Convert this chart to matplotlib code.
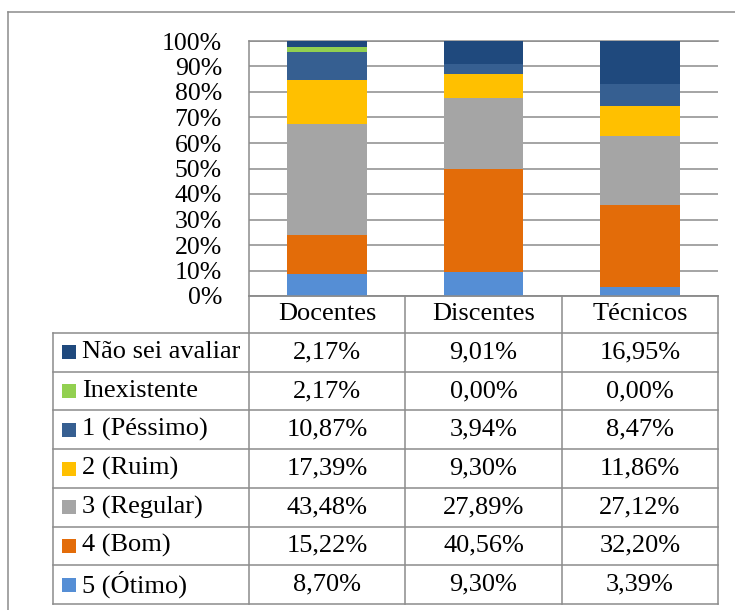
import matplotlib
matplotlib.use("Agg")
import matplotlib.pyplot as plt
from matplotlib.patches import Rectangle
import numpy as np

plt.rcParams['font.family'] = ['Liberation Serif', 'DejaVu Serif']

categories = ["Docentes", "Discentes", "Técnicos"]
series_names = ["Não sei avaliar", "Inexistente", "1 (Péssimo)", "2 (Ruim)",
                "3 (Regular)", "4 (Bom)", "5 (Ótimo)"]
nao_sei = [2.17, 9.01, 16.95]
inexistente = [2.17, 0.00, 0.00]
pessimo = [10.87, 3.94, 8.47]
ruim = [17.39, 9.30, 11.86]
regular = [43.48, 27.89, 27.12]
bom = [15.22, 40.56, 32.20]
otimo = [8.70, 9.30, 3.39]
colors = ["#1F497D", "#92D050", "#365F91", "#FFC000", "#A5A5A5", "#E36C09", "#558ED5"]
yticks = [0, 10, 20, 30, 40, 50, 60, 70, 80, 90, 100]

series = [nao_sei, inexistente, pessimo, ruim, regular, bom, otimo]

W, H = 735, 610
fig = plt.figure(figsize=(W / 100, H / 100), dpi=100)
FS = 19
FS_T = 18.5
grid_c = "#8c8c8c"

# plot area in pixels
L, R, T, B = 249, 718, 41, 296
ax = fig.add_axes([L / W, 1 - B / H, (R - L) / W, (B - T) / H])
x = np.arange(len(categories))
bottom = np.zeros(len(categories))
# stack from bottom: Ótimo ... Não sei avaliar
for vals, col in zip(series[::-1], colors[::-1]):
    v = np.array(vals)
    ax.bar(x, v, 0.51, bottom=bottom, color=col, zorder=3, linewidth=0)
    bottom += v
ax.set_xlim(-0.5, len(categories) - 0.5)
ax.set_ylim(0, 100)
ax.set_yticks(yticks)
ax.set_yticklabels([f"{t}%" for t in yticks], fontsize=FS_T)
ax.set_xticks([])
ax.tick_params(axis='y', length=0, pad=19.5)
ax.yaxis.grid(True, color=grid_c, linewidth=1.1, zorder=0)
for s in ["right"]:
    ax.spines[s].set_visible(False)
for s in ["left", "top", "bottom"]:
    ax.spines[s].set_color(grid_c)
    ax.spines[s].set_linewidth(1.1)

# overlay for table and frame
ov = fig.add_axes([0, 0, 1, 1], zorder=5)
ov.set_xlim(0, W)
ov.set_ylim(H, 0)
ov.axis("off")
ov.patch.set_alpha(0)

lc = "#8c8c8c"
lw = 1.1
# outer frame (left and top only visible)
ov.plot([8.5, 8.5], [H + 5, 11.5], color=lc, lw=lw)
ov.plot([8.5, W + 5], [11.5, 11.5], color=lc, lw=lw)

col_x = [53, 249, 405, 562, 718]
row_top = 296
header_bot = 333
row_h = (604 - 333) / 7
rows_y = [header_bot + i * row_h for i in range(8)]

# header row
for i in range(1, 5):
    ov.plot([col_x[i], col_x[i]], [row_top, rows_y[-1]], color=lc, lw=lw)
ov.plot([col_x[1], col_x[4]], [row_top, row_top], color=lc, lw=lw)
for j, cat in enumerate(categories):
    ov.text((col_x[j + 1] + col_x[j + 2]) / 2, (row_top + header_bot) / 2, cat,
            ha="center", va="center", fontsize=FS)
# data rows
ov.plot([col_x[0], col_x[0]], [rows_y[0], rows_y[-1]], color=lc, lw=lw)
for y in rows_y:
    ov.plot([col_x[0], col_x[4]], [y, y], color=lc, lw=lw)
for r, (name, vals, col) in enumerate(zip(series_names, series, colors)):
    yc = (rows_y[r] + rows_y[r + 1]) / 2
    ov.add_patch(Rectangle((62, yc - 7), 14, 14, facecolor=col, edgecolor="none"))
    ov.text(82, yc, name, ha="left", va="center", fontsize=FS)
    for j, v in enumerate(vals):
        ov.text((col_x[j + 1] + col_x[j + 2]) / 2, yc,
                f"{v:.2f}%".replace(".", ","), ha="center", va="center", fontsize=FS)

fig.savefig("out.png", dpi=100)
